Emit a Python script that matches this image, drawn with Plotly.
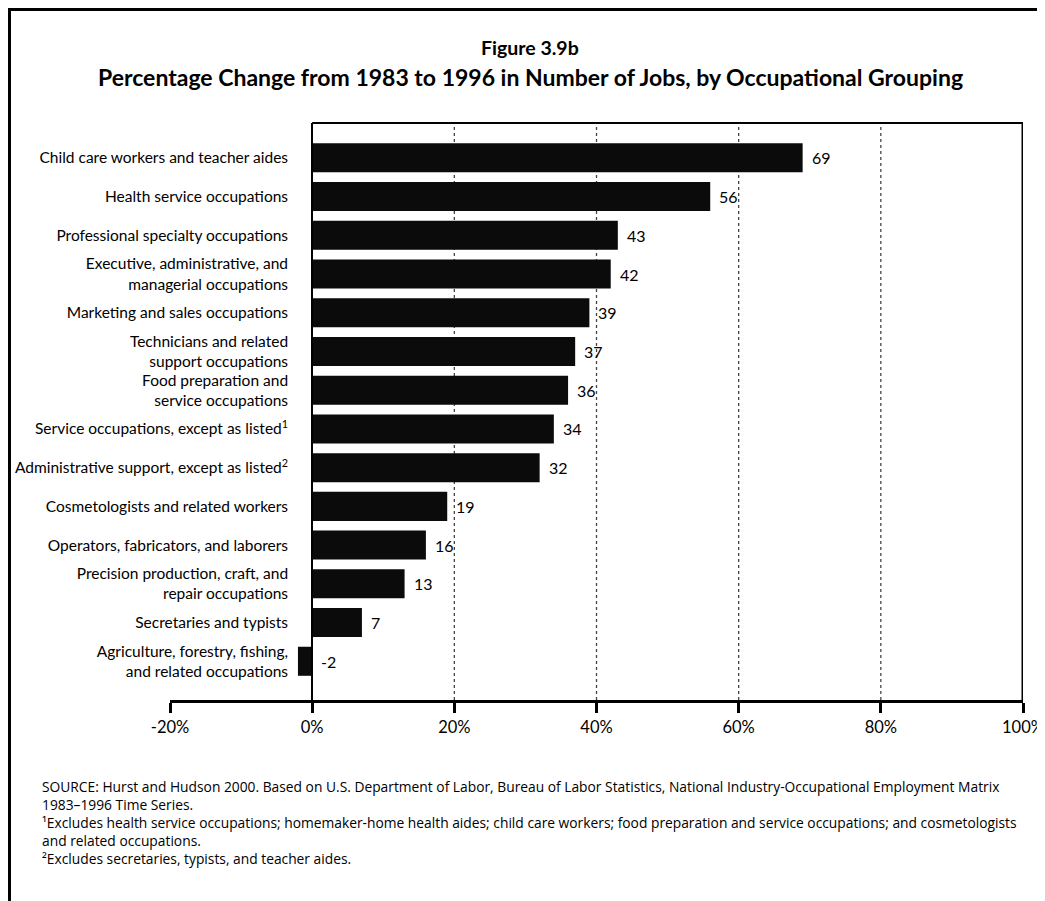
import plotly.graph_objects as go

# ---------------- data ----------------
categories = [
    "Child care workers and teacher aides",
    "Health service occupations",
    "Professional specialty occupations",
    "Executive, administrative, and<br>managerial occupations",
    "Marketing and sales occupations",
    "Technicians and related<br>support occupations",
    "Food preparation and<br>service occupations",
    "Service occupations, except as listed<sup>1</sup>",
    "Administrative support, except as listed<sup>2</sup>",
    "Cosmetologists and related workers",
    "Operators, fabricators, and laborers",
    "Precision production, craft, and<br>repair occupations",
    "Secretaries and typists",
    "Agriculture, forestry, fishing,<br>and related occupations",
]
values = [69, 56, 43, 42, 39, 37, 36, 34, 32, 19, 16, 13, 7, -2]
tick_values = [-20, 0, 20, 40, 60, 80, 100]
tick_labels = ["-20%", "0%", "20%", "40%", "60%", "80%", "100%"]
grid_values = [20, 40, 60, 80]

title_top = "Figure 3.9b"
title_main = "Percentage Change from 1983 to 1996 in Number of Jobs, by Occupational Grouping"
footnotes = [
    "SOURCE: Hurst and Hudson 2000. Based on U.S. Department of Labor, Bureau of Labor Statistics, National Industry-Occupational Employment Matrix",
    "1983\u20131996 Time Series.",
    "\u00b9Excludes health service occupations; homemaker-home health aides; child care workers; food preparation and service occupations; and cosmetologists",
    "and related occupations.",
    "\u00b2Excludes secretaries, typists, and teacher aides.",
]

# ---------------- layout geometry (page pixels) ----------------
OFF = 8                      # default body margin of the html page
PAGE_W, PAGE_H = 1045, 901
W, H = PAGE_W - OFF, PAGE_H - OFF
L, R, T, B = 170, 1023, 123, 700   # plot area in page pixels
PW, PH = R - L, B - T


def px_x(p):
    return (p - L) / PW


def px_y(p):
    return (B - p) / PH


FONT = "Lato"
xmin, xmax = tick_values[0], tick_values[-1]
zero_pos = (0 - xmin) / (xmax - xmin)

fig = go.Figure()
fig.add_trace(go.Bar(
    x=values, y=categories, orientation="h",
    width=0.75,
    marker=dict(color="#0b0b0b", line=dict(width=0)),
    hoverinfo="skip",
))

annotations = []
for c, v in zip(categories, values):
    annotations.append(dict(
        x=max(v, 0), y=c, xref="x", yref="y",
        text=str(v), showarrow=False, xanchor="left", yanchor="middle",
        xshift=7, font=dict(family=FONT, size=16, color="black"),
    ))

annotations.append(dict(
    x=px_x(530), y=px_y(47), xref="paper", yref="paper", text="<b>" + title_top + "</b>",
    showarrow=False, xanchor="center", yanchor="middle",
    font=dict(family=FONT, size=19.5, color="black"),
))
annotations.append(dict(
    x=px_x(530), y=px_y(77), xref="paper", yref="paper", text="<b>" + title_main + "</b>",
    showarrow=False, xanchor="center", yanchor="middle",
    font=dict(family=FONT, size=23, color="black"),
))

annotations.append(dict(
    x=px_x(40), y=px_y(822), xref="paper", yref="paper", text="<br>".join(footnotes),
    showarrow=False, xanchor="left", yanchor="middle", align="left",
    font=dict(family="Open Sans", size=13.8, color="black"),
))

shapes = []
for g in grid_values:
    shapes.append(dict(type="line", xref="x", yref="paper", x0=g, x1=g, y0=0, y1=1,
                       line=dict(color="#444444", width=1.3, dash="dot"), layer="below"))
# box top and right
shapes.append(dict(type="line", xref="x", yref="paper", x0=0, x1=xmax, y0=1, y1=1,
                   line=dict(color="black", width=2)))
shapes.append(dict(type="line", xref="x", yref="paper", x0=xmax, x1=xmax, y0=0, y1=1,
                   line=dict(color="black", width=3)))
# outer page frame (left and top)
shapes.append(dict(type="line", xref="paper", yref="paper", x0=px_x(OFF + 1.5), x1=px_x(OFF + 1.5),
                   y0=px_y(OFF + 1.5), y1=px_y(PAGE_H + 5), line=dict(color="black", width=3)))
shapes.append(dict(type="line", xref="paper", yref="paper", x0=px_x(OFF), x1=px_x(PAGE_W + 5),
                   y0=px_y(OFF + 1.5), y1=px_y(OFF + 1.5), line=dict(color="black", width=3)))

fig.update_layout(
    width=W, height=H,
    margin=dict(l=L - OFF, r=W - (R - OFF), t=T - OFF, b=H - (B - OFF), autoexpand=False),
    paper_bgcolor="white", plot_bgcolor="white",
    showlegend=False,
    bargap=0.25,
    annotations=annotations,
    shapes=shapes,
    font=dict(family=FONT, color="black"),
)
fig.update_xaxes(
    range=[xmin, xmax], tickvals=tick_values, ticktext=tick_labels,
    showgrid=False, zeroline=False,
    showline=True, linecolor="black", linewidth=2.5,
    ticks="outside", ticklen=10, tickwidth=2.5, tickcolor="black",
    tickfont=dict(family=FONT, size=16.5, color="black"),
    automargin=False, fixedrange=True,
)
fig.update_yaxes(
    type="category", categoryorder="array", categoryarray=categories,
    range=[len(categories) - 1 + 1.0, -0.9],
    anchor="free", position=zero_pos,
    showgrid=False, zeroline=False,
    showline=True, linecolor="black", linewidth=2,
    ticks="", ticklabelstandoff=20,
    tickfont=dict(family=FONT, size=15.5, color="black"),
    automargin=False, fixedrange=True,
)

fig.write_html("out.html")
